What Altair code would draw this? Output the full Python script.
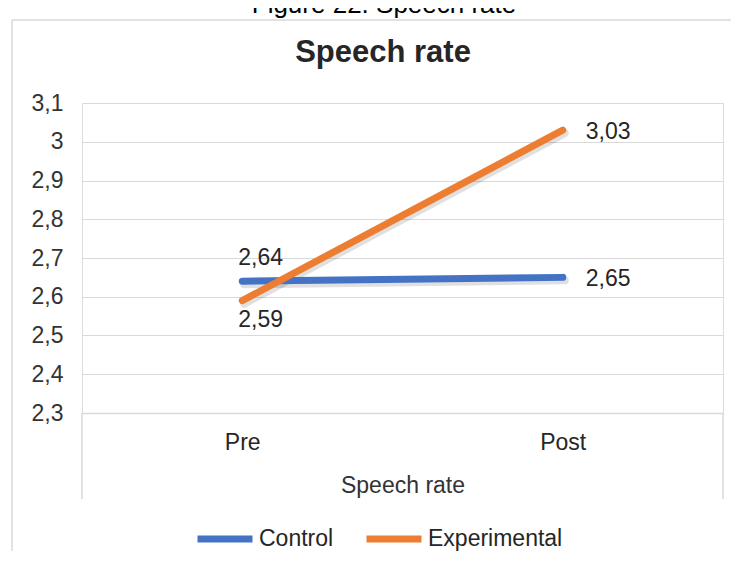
import altair as alt
import pandas as pd

# ---- data ----
phases = ["Pre", "Post"]
groups = ["Control", "Experimental"]
control = [2.64, 2.65]
experimental = [2.59, 3.03]
y_ticks = [2.3, 2.4, 2.5, 2.6, 2.7, 2.8, 2.9, 3.0, 3.1]
colors = ["#4472C4", "#ED7D31"]

rows = []
for g, vals in zip(groups, [control, experimental]):
    for p, v in zip(phases, vals):
        rows.append({"phase": p, "group": g, "value": v})
df = pd.DataFrame(rows)
one = pd.DataFrame({"k": [0]})

FONT = "Liberation Sans"
W, H = 641, 310

x = alt.X(
    "phase:N", sort=phases,
    scale=alt.Scale(type="point", padding=0.5),
    axis=alt.Axis(
        title="Speech rate", labelAngle=0, labelFontSize=23, labelPadding=18,
        titleFontSize=23, titleFontWeight="normal", titlePadding=20,
        domain=True, domainColor="#D9D9D9", domainWidth=1.5, ticks=False, grid=False,
        labelColor="#262626", titleColor="#333333", labelFont=FONT, titleFont=FONT,
    ),
)
y = alt.Y(
    "value:Q",
    scale=alt.Scale(domain=[2.3, 3.1], nice=False, zero=False),
    axis=alt.Axis(
        title=None, values=y_ticks,
        labelExpr="replace(format(datum.value,'.1~f'),'.',',')",
        labelFontSize=23, labelPadding=19, ticks=False, domain=False,
        gridColor="#D9D9D9", gridWidth=1, labelColor="#333333", labelFont=FONT,
    ),
)
color = alt.Color(
    "group:N",
    scale=alt.Scale(domain=groups, range=colors),
    legend=alt.Legend(
        title=None, orient="none", legendX=112, legendY=405, direction="horizontal",
        symbolType="stroke", symbolSize=3025, symbolStrokeWidth=7,
        labelFontSize=23, labelFont=FONT, labelColor="#262626",
        columnPadding=18, labelOffset=3, padding=0,
    ),
)

base = alt.Chart(df)

shadow = base.mark_line(
    strokeWidth=8, color="#000000", opacity=0.12, xOffset=2, yOffset=3, strokeCap="round"
).encode(x=x, y=y, detail="group:N")

lines = base.mark_line(strokeWidth=7, strokeCap="round").encode(x=x, y=y, color=color)

lab = base.transform_calculate(label="replace(format(datum.value,'.2f'),'.',',')")
txt = dict(font=FONT, fontSize=23, color="#262626", align="left")
lab_pre_c = lab.transform_filter("datum.phase=='Pre' && datum.group=='Control'").mark_text(
    baseline="alphabetic", dx=-4, dy=-16, **txt).encode(x=x, y=y, text="label:N")
lab_pre_e = lab.transform_filter("datum.phase=='Pre' && datum.group=='Experimental'").mark_text(
    baseline="alphabetic", dx=-4, dy=26, **txt).encode(x=x, y=y, text="label:N")
lab_post = lab.transform_filter("datum.phase=='Post'").mark_text(
    baseline="middle", dx=23, dy=2, **txt).encode(x=x, y=y, text="label:N")

# decorative frame and category box
frame_c = "#D9D9D9"
ob = alt.Chart(one)
frame_top = ob.mark_rule(color=frame_c, strokeWidth=1.5).encode(
    x=alt.value(-70), x2=alt.value(W + 8), y=alt.value(-83))
frame_left = ob.mark_rule(color=frame_c, strokeWidth=1.5).encode(
    x=alt.value(-70), y=alt.value(-83), y2=alt.value(H + 140))
box_l = ob.mark_rule(color=frame_c, strokeWidth=1.5).encode(
    x=alt.value(0), y=alt.value(H), y2=alt.value(H + 86))
box_r = ob.mark_rule(color=frame_c, strokeWidth=1.5).encode(
    x=alt.value(W), y=alt.value(H), y2=alt.value(H + 86))

caption = ob.mark_text(font=FONT, fontSize=26, color="#000000", align="center",
                       baseline="alphabetic").encode(
    x=alt.value(302), y=alt.value(-90), text=alt.value("Figure 22. Speech rate"))

title = ob.mark_text(font=FONT, fontSize=31, fontWeight="bold", color="#262626",
                     align="center", baseline="alphabetic").encode(
    x=alt.value(301), y=alt.value(-41), text=alt.value("Speech rate"))

chart = alt.layer(
    frame_top, frame_left, box_l, box_r, caption, title,
    shadow, lines, lab_pre_c, lab_pre_e, lab_post,
).properties(
    width=W, height=H,
    padding={"left": 74, "top": 95, "right": 8, "bottom": 138},
    autosize=alt.AutoSizeParams(type="none"),
).configure_view(stroke=None).configure(background="white")

chart.save("out.html", embed_options={"renderer": "svg", "actions": False})
